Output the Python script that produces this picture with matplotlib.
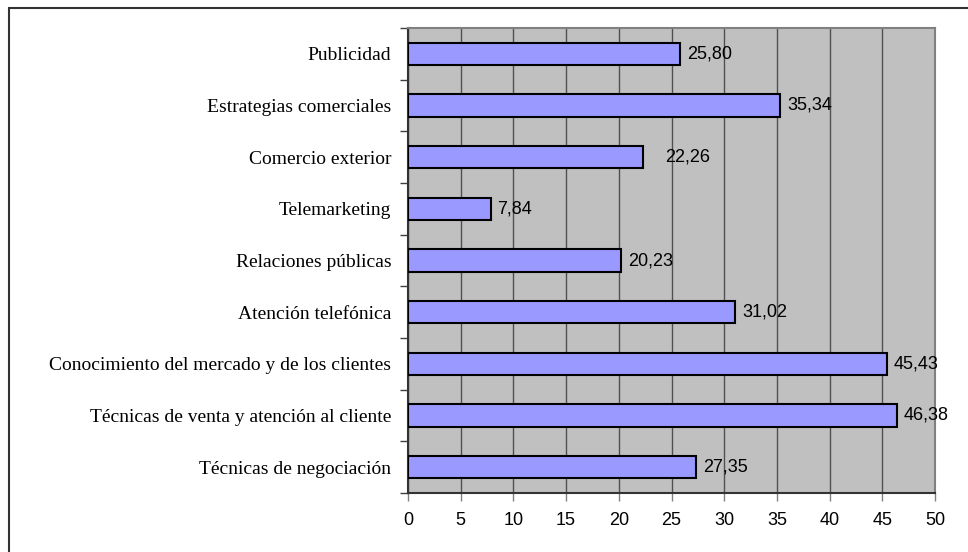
import numpy as np
import matplotlib.pyplot as plt
from matplotlib.patches import Rectangle

# datos (de arriba hacia abajo)
categorias = ["Publicidad", "Estrategias comerciales", "Comercio exterior",
              "Telemarketing", "Relaciones públicas", "Atención telefónica",
              "Conocimiento del mercado y de los clientes",
              "Técnicas de venta y atención al cliente",
              "Técnicas de negociación"]
valores = [25.80, 35.34, 22.26, 7.84, 20.23, 31.02, 45.43, 46.38, 27.35]
etiquetas = ["25,80", "35,34", "22,26", "7,84", "20,23", "31,02", "45,43", "46,38", "27,35"]
xticks = [0, 5, 10, 15, 20, 25, 30, 35, 40, 45, 50]

# separacion de cada etiqueta respecto al final de la barra (puntos)
desplaz = [5, 5, 16, 5, 5, 5, 5, 5, 5]

fig = plt.figure(figsize=(9.68, 5.52), dpi=100)
ax = fig.add_axes([408/968, 1-493/552, 527/968, 465/552])

# marco exterior (solo se ven izquierda y arriba)
fig.patches.append(Rectangle((9/968, -0.1), 1.2, 1 - 8/552 + 0.1,
                             transform=fig.transFigure, fill=False,
                             edgecolor="#333333", linewidth=1.5))

y = np.arange(len(categorias))[::-1]
ax.set_facecolor("#C0C0C0")
ax.barh(y, valores, height=0.43, color="#9999FF", edgecolor="black",
        linewidth=1.5, zorder=3)

for yi, v, t, d in zip(y, valores, etiquetas, desplaz):
    ax.annotate(t, (v, yi), xytext=(d, 0), textcoords="offset points",
                va="center", ha="left", fontsize=13,
                family="Liberation Sans", color="black")

ax.set_xlim(0, 50)
ax.set_ylim(-0.5, len(categorias) - 0.5)
ax.set_xticks(xticks)
ax.set_xticklabels([str(x) for x in xticks], family="Liberation Sans", fontsize=13)
ax.xaxis.grid(True, color="#505050", linewidth=1.0, zorder=1)
ax.set_axisbelow(True)

ax.set_yticks(y)
ax.set_yticklabels(categorias, family="Liberation Serif", fontsize=14)
ax.tick_params(axis="y", length=0, pad=12)
ax.set_yticks(np.arange(len(categorias) + 1) - 0.5, minor=True)
ax.tick_params(axis="y", which="minor", length=6, color="#404040", width=1)
ax.tick_params(axis="x", length=6, color="#808080", width=1, pad=8)

for s in ["top", "right"]:
    ax.spines[s].set_color("#808080")
    ax.spines[s].set_linewidth(1.5)
for s in ["left", "bottom"]:
    ax.spines[s].set_color("#333333")
    ax.spines[s].set_linewidth(1.5)

fig.savefig("out.png", dpi=100)
